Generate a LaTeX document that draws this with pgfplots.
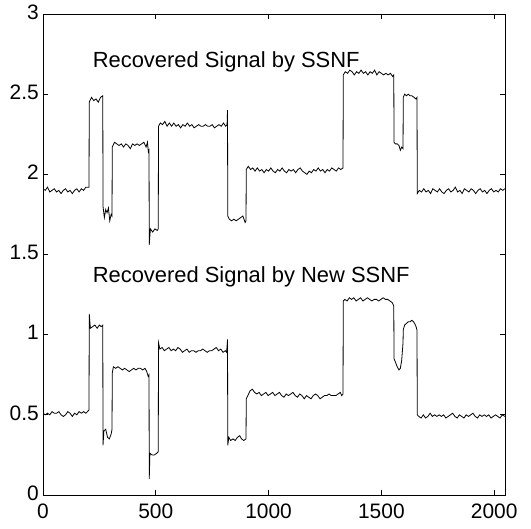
\documentclass[border=0pt]{standalone}
\usepackage{fontspec}
\setmainfont{Liberation Sans}
\usepackage{pgfplots}
\pgfplotsset{compat=1.18}
\begin{document}
\begin{tikzpicture}
\begin{axis}[
  at={(0,0)}, anchor=south west,
  scale only axis, width=462bp, height=481bp,
  xmin=0, xmax=2048, ymin=0, ymax=3,
  xtick={0,500,1000,1500,2000},
  ytick={0,0.5,1,1.5,2,2.5,3},
  tick align=inside, major tick length=5bp,
  /pgf/number format/1000 sep={},
  /pgf/number format/assume math mode=true,
  scaled ticks=false,
  tick label style={font=\fontsize{21}{23}\selectfont, inner sep=1bp},
  xticklabel style={yshift=-8bp},
  yticklabel style={xshift=-3bp, yshift=2bp},
  axis line style={line width=0.9pt},
  every tick/.style={line width=0.7pt, black},
  clip=true,
]
\addplot[black, line width=0.8pt] coordinates {
(0,1.91) (10,1.90) (20,1.92) (30,1.89) (40,1.90) (50,1.91) (60,1.89) (70,1.90) (80,1.88) (90,1.90) (100,1.91) (110,1.89) (120,1.90) (130,1.88) (140,1.90) (150,1.91) (160,1.89) (170,1.91) (180,1.90) (190,1.92) (204,1.92)
(205,2.45) (215,2.48) (225,2.46) (235,2.47) (245,2.45) (255,2.48) (265,2.49)
(266,1.80) (272,1.73) (278,1.78) (284,1.76) (290,1.79) (296,1.71) (302,1.75) (306,1.74)
(307,2.17) (317,2.20) (327,2.19) (337,2.18) (347,2.19) (357,2.17) (367,2.19) (377,2.18) (387,2.16) (397,2.19) (407,2.18) (417,2.19) (427,2.18) (437,2.19) (447,2.20) (457,2.17) (463,2.20) (467,2.14) (470,2.15)
(471,1.56) (476,1.66) (486,1.64) (496,1.66) (506,1.65) (511,1.66)
(512,2.30) (520,2.32) (530,2.31) (540,2.33) (550,2.30) (560,2.32) (570,2.30) (580,2.32) (590,2.30) (600,2.31) (610,2.29) (620,2.31) (630,2.30) (640,2.32) (650,2.30) (660,2.31) (670,2.29) (680,2.30) (690,2.31) (700,2.30) (710,2.30) (720,2.31) (730,2.30) (740,2.30) (750,2.31) (760,2.29) (770,2.30) (780,2.31) (790,2.30) (800,2.32) (810,2.30) (816,2.31) (818,2.40)
(819,1.74) (826,1.72) (836,1.71) (846,1.72) (856,1.71) (866,1.72) (876,1.73) (886,1.74) (896,1.70) (900,1.71)
(901,2.03) (910,2.05) (920,2.03) (930,2.04) (940,2.02) (950,2.04) (960,2.02) (970,2.03) (980,2.01) (990,2.03) (1000,2.02) (1010,2.04) (1020,2.02) (1030,2.01) (1040,2.03) (1050,2.02) (1060,2.04) (1070,2.02) (1080,2.01) (1090,2.03) (1100,2.02) (1110,2.03) (1120,2.01) (1130,2.03) (1140,2.04) (1150,2.02) (1160,2.01) (1170,2.00) (1180,2.02) (1190,2.01) (1200,2.03) (1210,2.02) (1220,2.04) (1230,2.02) (1240,2.03) (1250,2.01) (1260,2.03) (1270,2.02) (1280,2.04) (1290,2.03) (1300,2.02) (1310,2.04) (1320,2.03) (1330,2.04)
(1331,2.62) (1340,2.64) (1350,2.63) (1360,2.65) (1370,2.64) (1380,2.62) (1390,2.64) (1400,2.63) (1410,2.65) (1420,2.63) (1430,2.64) (1440,2.62) (1450,2.64) (1460,2.63) (1470,2.65) (1480,2.62) (1490,2.64) (1500,2.63) (1510,2.62) (1520,2.63) (1530,2.62) (1540,2.63) (1550,2.61) (1555,2.62)
(1556,2.20) (1562,2.19) (1570,2.19) (1578,2.18) (1584,2.15) (1590,2.17) (1596,2.16)
(1597,2.48) (1603,2.50) (1611,2.49) (1619,2.50) (1627,2.49) (1635,2.49) (1645,2.48) (1653,2.47) (1658,2.48)
(1659,1.88) (1668,1.90) (1678,1.89) (1688,1.91) (1698,1.89) (1708,1.90) (1718,1.88) (1728,1.91) (1738,1.90) (1748,1.89) (1758,1.91) (1768,1.89) (1778,1.88) (1788,1.90) (1798,1.91) (1808,1.89) (1818,1.90) (1828,1.92) (1838,1.89) (1848,1.90) (1858,1.88) (1868,1.91) (1878,1.90) (1888,1.89) (1898,1.91) (1908,1.90) (1918,1.88) (1928,1.90) (1938,1.91) (1948,1.89) (1958,1.90) (1968,1.88) (1978,1.90) (1988,1.91) (1998,1.89) (2008,1.90) (2018,1.89) (2028,1.91) (2038,1.90) (2047,1.91)
};
\addplot[black, line width=0.8pt] coordinates {
(0,0.51) (10,0.50) (20,0.51) (30,0.50) (40,0.52) (50,0.51) (60,0.51) (70,0.52) (80,0.50) (90,0.49) (100,0.50) (110,0.52) (120,0.51) (130,0.49) (140,0.51) (150,0.50) (160,0.52) (170,0.51) (180,0.52) (190,0.51) (204,0.53)
(205,1.13) (210,1.04) (220,1.05) (230,1.06) (240,1.04) (250,1.06) (258,1.05) (265,1.06)
(266,0.31) (270,0.40) (278,0.41) (286,0.36) (294,0.35) (302,0.38) (306,0.41)
(307,0.76) (312,0.80) (322,0.79) (332,0.80) (342,0.79) (352,0.78) (362,0.79) (372,0.78) (382,0.77) (392,0.78) (402,0.79) (412,0.78) (422,0.79) (432,0.79) (442,0.78) (452,0.79) (460,0.77) (466,0.74) (470,0.75)
(471,0.10) (474,0.26) (484,0.25) (494,0.25) (504,0.26) (511,0.27)
(512,0.95) (518,0.91) (528,0.92) (538,0.90) (548,0.91) (558,0.92) (568,0.90) (578,0.91) (588,0.90) (598,0.92) (608,0.91) (618,0.89) (628,0.90) (638,0.91) (648,0.89) (658,0.90) (668,0.90) (678,0.89) (688,0.90) (698,0.90) (708,0.91) (718,0.90) (728,0.89) (738,0.90) (748,0.90) (758,0.91) (768,0.92) (778,0.90) (788,0.91) (798,0.89) (808,0.90) (814,0.89) (818,0.97)
(819,0.31) (824,0.36) (832,0.34) (842,0.35) (852,0.34) (862,0.36) (872,0.37) (880,0.35) (890,0.34) (900,0.35)
(901,0.60) (908,0.62) (918,0.65) (928,0.66) (938,0.64) (948,0.63) (958,0.64) (968,0.62) (978,0.63) (988,0.64) (998,0.62) (1008,0.63) (1018,0.64) (1028,0.62) (1038,0.63) (1048,0.64) (1058,0.62) (1068,0.61) (1078,0.63) (1088,0.62) (1098,0.63) (1108,0.64) (1118,0.62) (1128,0.61) (1138,0.63) (1148,0.62) (1158,0.60) (1168,0.62) (1178,0.61) (1188,0.60) (1198,0.62) (1208,0.63) (1218,0.62) (1228,0.60) (1238,0.61) (1248,0.62) (1258,0.62) (1268,0.63) (1278,0.62) (1288,0.62) (1298,0.62) (1308,0.63) (1318,0.64) (1324,0.62) (1330,0.63)
(1331,1.21) (1338,1.22) (1348,1.21) (1358,1.23) (1368,1.22) (1378,1.23) (1388,1.21) (1398,1.22) (1408,1.23) (1418,1.21) (1428,1.22) (1438,1.23) (1448,1.22) (1458,1.21) (1468,1.22) (1478,1.22) (1488,1.21) (1498,1.22) (1508,1.23) (1518,1.22) (1528,1.22) (1538,1.21) (1548,1.20) (1555,1.18)
(1556,0.85) (1562,0.83) (1570,0.80) (1578,0.78) (1584,0.79) (1590,0.84) (1596,0.95)
(1597,1.03) (1603,1.06) (1611,1.07) (1619,1.08) (1627,1.08) (1635,1.09) (1643,1.08) (1651,1.06) (1658,1.03)
(1659,0.50) (1666,0.49) (1676,0.48) (1686,0.50) (1696,0.48) (1706,0.49) (1716,0.51) (1726,0.49) (1736,0.50) (1746,0.49) (1756,0.50) (1766,0.49) (1776,0.50) (1786,0.48) (1796,0.49) (1806,0.50) (1816,0.51) (1826,0.49) (1836,0.48) (1846,0.50) (1856,0.49) (1866,0.48) (1876,0.50) (1886,0.49) (1896,0.50) (1906,0.51) (1916,0.49) (1926,0.48) (1936,0.50) (1946,0.49) (1956,0.50) (1966,0.49) (1976,0.50) (1986,0.48) (1996,0.49) (2006,0.50) (2016,0.49) (2026,0.48) (2036,0.50) (2047,0.49)
};
\node[anchor=base west, inner sep=0pt, font=\fontsize{22}{24}\selectfont] at (axis cs:220,2.665) {Recovered Signal by SSNF};
\node[anchor=base west, inner sep=0pt, font=\fontsize{22}{24}\selectfont] at (axis cs:220,1.325) {Recovered Signal by New SSNF};
\end{axis}
\path (-43bp,-34bp) rectangle (488bp,495bp);
\end{tikzpicture}
\end{document}
